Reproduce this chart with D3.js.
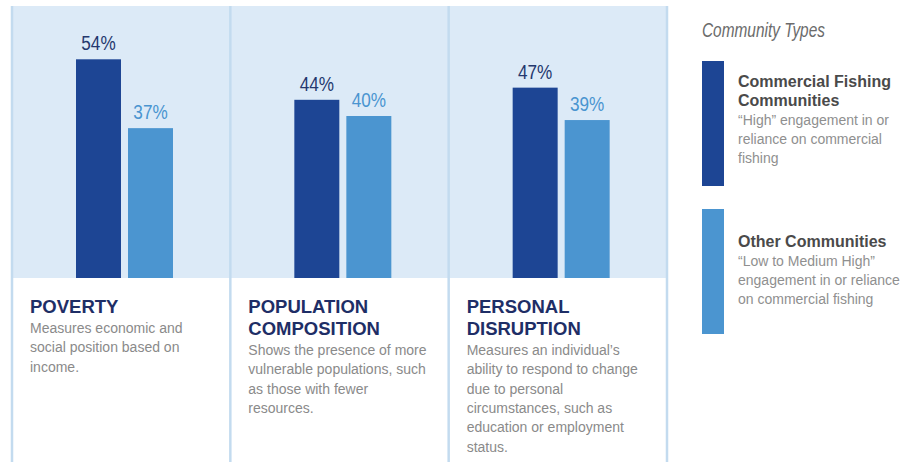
<!DOCTYPE html>
<html><head><meta charset="utf-8">
<script src="https://cdn.jsdelivr.net/npm/d3@7"></script>
<style>body{margin:0;background:#fff}svg{display:block}</style>
</head><body>
<svg id="c" width="905" height="462"></svg>
<script>
const categories = ["POVERTY", "POPULATION COMPOSITION", "PERSONAL DISRUPTION"];
const titleLines = [["POVERTY"], ["POPULATION", "COMPOSITION"], ["PERSONAL", "DISRUPTION"]];
const descLines = [
  ["Measures economic and", "social position based on", "income."],
  ["Shows the presence of more", "vulnerable populations, such", "as those with fewer", "resources."],
  ["Measures an individual\u2019s", "ability to respond to change", "due to personal", "circumstances, such as", "education or employment", "status."]
];
const seriesNames = ["Commercial Fishing Communities", "Other Communities"];
const commercial = [54, 44, 47];
const other = [37, 40, 39];
const legendTitle = "Community Types";
const legendNames = [["Commercial Fishing", "Communities"], ["Other Communities"]];
const legendDesc = [["\u201CHigh\u201D engagement in or", "reliance on commercial", "fishing"],
                    ["\u201CLow to Medium High\u201D", "engagement in or reliance", "on commercial fishing"]];

const colors = ["#1d4594", "#4b95d0"];
const labelColors = ["#24386e", "#4a95d0"];
const svg = d3.select("#c");

const x = d3.scaleBand().domain(categories).range([12, 667]);
const x1 = d3.scaleBand().domain(seriesNames).range([0, 97]).paddingInner(0.135);
const y = d3.scaleLinear().domain([0, 100]).range([278, -127]);

svg.append("rect").attr("x", 12).attr("y", 6).attr("width", 655).attr("height", y(0) - 6).attr("fill", "#dceaf7");

const dividers = categories.map(c => x(c)).concat([x(categories[2]) + x.bandwidth()]);
svg.selectAll("line.div").data(dividers).join("line")
  .attr("x1", d => d).attr("x2", d => d).attr("y1", 6).attr("y2", 462)
  .attr("stroke", "#c3dbef").attr("stroke-width", 2.5);

const data = categories.map((c, i) => ({c, vals: [commercial[i], other[i]]}));
const g = svg.selectAll("g.cat").data(data).join("g")
  .attr("transform", d => `translate(${x(d.c) + 64},0)`);
g.selectAll("rect").data(d => d.vals.map((v, j) => ({v, s: seriesNames[j], j}))).join("rect")
  .attr("x", d => x1(d.s)).attr("width", x1.bandwidth())
  .attr("y", d => y(d.v)).attr("height", d => y(0) - y(d.v))
  .attr("fill", d => colors[d.j]);
g.selectAll("text.val").data(d => d.vals.map((v, j) => ({v, s: seriesNames[j], j}))).join("text")
  .attr("class", "val")
  .attr("transform", d => `translate(${x1(d.s) + x1.bandwidth() / 2},${y(d.v) - 9}) scale(0.88,1)`)
  .attr("text-anchor", "middle")
  .attr("font-family", "'Liberation Sans', Arial, sans-serif")
  .attr("font-size", 19.5).attr("fill", d => labelColors[d.j])
  .text(d => d.v + "%");

// titles and descriptions
categories.forEach((c, i) => {
  const tx = x(c) + 18;
  const tl = titleLines[i];
  tl.forEach((t, k) => {
    svg.append("text").attr("x", tx).attr("y", 313 + k * 22)
      .attr("font-family", "'Liberation Sans', Arial, sans-serif").attr("font-weight", "bold")
      .attr("font-size", 18.5).attr("fill", "#1e2e66").text(t);
  });
  const dy0 = 313 + (tl.length - 1) * 22 + 20;
  descLines[i].forEach((t, k) => {
    svg.append("text").attr("x", tx).attr("y", dy0 + k * 19.3)
      .attr("font-family", "'Liberation Sans', Arial, sans-serif")
      .attr("font-size", 14).attr("fill", "#8a8a8a").text(t);
  });
});

// legend
svg.append("text").attr("transform", "translate(702,37) scale(0.79,1)")
  .attr("font-family", "'Liberation Sans', Arial, sans-serif")
  .attr("font-style", "italic").attr("font-size", 19.5).attr("fill", "#6b6b6b").text(legendTitle);
const legY = [61, 209];
seriesNames.forEach((s, j) => {
  svg.append("rect").attr("x", 702).attr("y", legY[j]).attr("width", 22).attr("height", 125).attr("fill", colors[j]);
  const nameBase = legY[j] + 26 + (j === 1 ? 12 : 0);
  legendNames[j].forEach((t, k) => {
    svg.append("text").attr("x", 738).attr("y", nameBase + k * 19)
      .attr("font-family", "'Liberation Sans', Arial, sans-serif").attr("font-weight", "bold")
      .attr("font-size", 16).attr("fill", "#4a4a4a").text(t);
  });
  const db = nameBase + (legendNames[j].length - 1) * 19 + 19;
  legendDesc[j].forEach((t, k) => {
    svg.append("text").attr("x", 738).attr("y", db + k * 19)
      .attr("font-family", "'Liberation Sans', Arial, sans-serif")
      .attr("font-size", 14).attr("fill", "#8f8f8f").text(t);
  });
});
</script>
</body></html>
